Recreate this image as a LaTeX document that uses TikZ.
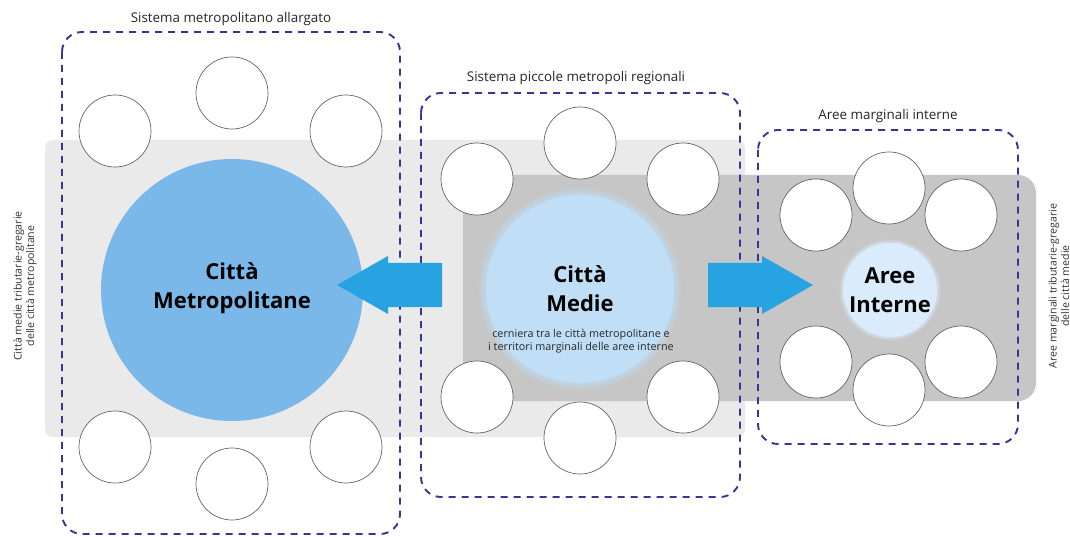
\documentclass[tikz,border=0pt]{standalone}
\usepackage{fontspec}
\setmainfont{Open Sans}
\usetikzlibrary{positioning}
\definecolor{bandlight}{RGB}{234,234,234}
\definecolor{banddark}{RGB}{198,198,198}
\definecolor{boxline}{RGB}{58,52,148}
\definecolor{metroblue}{RGB}{122,184,234}
\definecolor{medieblue}{RGB}{192,223,246}
\definecolor{interneblue}{RGB}{218,236,251}
\definecolor{arrowblue}{RGB}{40,163,226}
\definecolor{ringgray}{RGB}{100,100,100}
\tikzset{
  system/.style={draw=boxline, line width=1.9pt, dash pattern=on 7pt off 6pt, rounded corners=20pt},
  satellite/.style={circle, draw=ringgray, line width=0.7pt, fill=white, minimum size=72pt, inner sep=0pt},
  hub/.style={circle, inner sep=0pt},
  hubtext/.style={align=center, font=\fontsize{22}{29}\selectfont\bfseries},
  syslabel/.style={font=\fontsize{13.4}{15}\selectfont, text=black!85},
  sidelabel/.style={font=\fontsize{10.6}{12.5}\selectfont, text=black!80, align=center, rotate=90},
  flow/.style={fill=arrowblue, draw=none}
}
\begin{document}
\begin{tikzpicture}[x=1pt, y=-1pt]
\useasboundingbox (0,0) rectangle (1070,537);
\fill[white] (0,0) rectangle (1070,537);

% territorial bands
\fill[bandlight, rounded corners=8pt] (45,140) rectangle (745,437);
\fill[banddark, rounded corners=18pt] (463,175) -- (1036,175) -- (1036,401) -- (463,401) [sharp corners] -- cycle;
\fill[banddark] (463,175) rectangle (500,401);

% metropolitan cities
\node[hub, fill=metroblue, minimum size=262pt] (metro) at (232,290) {};
\node[hubtext] (metrotxt) at (232,288) {Città\\Metropolitane};

% medium cities with soft edge
\foreach \r in {101,99.5,...,95}
  \fill[medieblue, opacity=0.18] (580,289) circle[radius=\r pt];
\node[hub, fill=medieblue, minimum size=188pt] (medie) at (580,289) {};
\node[hubtext] (medietxt) at (580,289) {Città\\Medie};
\node[align=center, font=\fontsize{10.8}{13}\selectfont, text=black!85] (medienote) at (581,341) {cerniera tra le città metropolitane e\\i territori marginali delle aree interne};

% inner areas
\foreach \r in {50.5,49.5,...,47.5}
  \fill[interneblue, opacity=0.2] (890,290) circle[radius=\r pt];
\node[hub, fill=interneblue, minimum size=94pt] (interne) at (890,290) {};
\node[hubtext] (internetxt) at (890,290) {Aree\\Interne};

% satellites of the metropolitan system
\node[satellite] (m1) at (232,93) {};
\node[satellite] (m2) at (115,131) {};
\node[satellite] (m3) at (346,131) {};
\node[satellite] (m4) at (115,447) {};
\node[satellite] (m5) at (232,484) {};
\node[satellite] (m6) at (346,447) {};

% satellites of the regional system
\node[satellite] (r1) at (580,143) {};
\node[satellite] (r2) at (477,179) {};
\node[satellite] (r3) at (683,179) {};
\node[satellite] (r4) at (477,397) {};
\node[satellite] (r5) at (580,438) {};
\node[satellite] (r6) at (683,397) {};

% satellites of the marginal areas
\node[satellite] (a1) at (889,188) {};
\node[satellite] (a2) at (816,215) {};
\node[satellite] (a3) at (961,215) {};
\node[satellite] (a4) at (816,362) {};
\node[satellite] (a5) at (889,390) {};
\node[satellite] (a6) at (961,362) {};

% system boundaries
\draw[system] (62,32) rectangle (400,534);
\draw[system] (421,93) rectangle (740,497);
\draw[system] (758,130) rectangle (1018,444);

% system labels
\node[syslabel] (lmetro) at (231,19) {Sistema metropolitano allargato};
\node[syslabel] (lreg) at (576,78) {Sistema piccole metropoli regionali};
\node[syslabel] (lint) at (888,116) {Aree marginali interne};

% side labels
\node[sidelabel] (sleft) at (25,286) {Città medie tributarie-gregarie\\delle città metropolitane};
\node[sidelabel] (sright) at (1059,286) {Aree marginali tributarie-gregarie\\delle città medie};

% flows between the systems
\fill[flow] (442,263) -- (388,263) -- (388,256) -- (337,285) -- (388,314) -- (388,307) -- (442,307) -- cycle;
\fill[flow] (708,263) -- (762,263) -- (762,256) -- (813,285) -- (762,314) -- (762,307) -- (708,307) -- cycle;
\end{tikzpicture}
\end{document}
